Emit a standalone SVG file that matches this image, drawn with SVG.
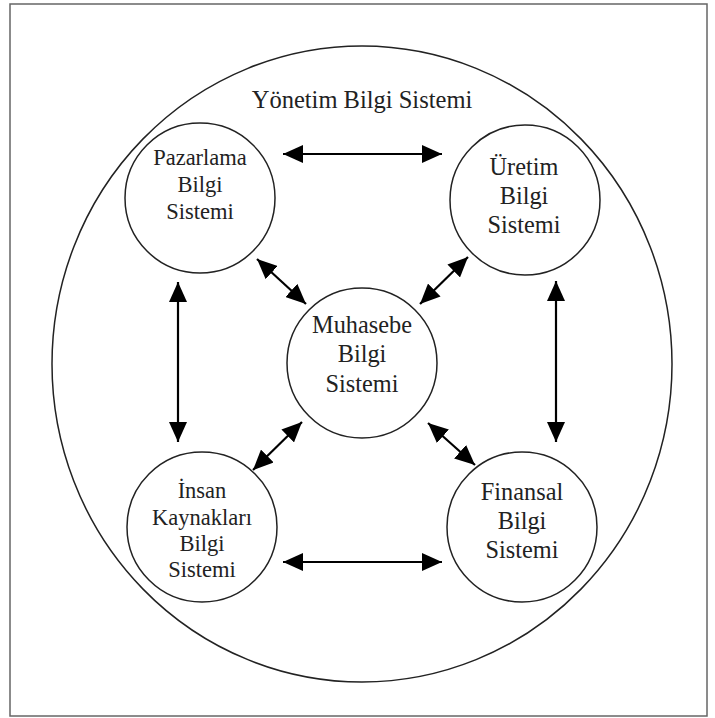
<svg xmlns="http://www.w3.org/2000/svg" width="715" height="718" viewBox="0 0 715 718">
<style>
.c{fill:#fff;stroke:#222;stroke-width:1.5}
.t{font-family:"Liberation Serif","Times New Roman",serif;font-size:22.5px;fill:#222;text-anchor:middle}
.b{font-size:24.3px}
.a{stroke:#000;stroke-width:2.2;fill:none;marker-start:url(#ah);marker-end:url(#ah)}
</style>
<defs>
<marker id="ah" markerUnits="userSpaceOnUse" markerWidth="20" markerHeight="18" refX="20" refY="9" orient="auto-start-reverse" viewBox="0 0 20 18">
<path d="M0,0 L20,9 L0,18 z" fill="#000"/>
</marker>
</defs>
<rect x="0" y="0" width="715" height="718" fill="#fff"/>
<rect x="10" y="4" width="697" height="712" fill="none" stroke="#666" stroke-width="1.5"/>
<g id="yonetim">
<ellipse cx="362" cy="364" rx="310" ry="318" fill="none" stroke="#222" stroke-width="1.5"/>
<text class="t" x="362" y="108" style="font-size:24.5px">Yönetim Bilgi Sistemi</text>
</g>
<g id="pazarlama">
<circle class="c" cx="200" cy="198" r="75"/>
<text class="t" x="200" y="165">Pazarlama</text>
<text class="t" x="200" y="192">Bilgi</text>
<text class="t" x="200" y="219">Sistemi</text>
</g>
<g id="uretim">
<circle class="c" cx="525" cy="200" r="75"/>
<text class="t b" x="524" y="175">Üretim</text>
<text class="t b" x="524" y="204">Bilgi</text>
<text class="t b" x="524" y="233">Sistemi</text>
</g>
<g id="muhasebe">
<circle class="c" cx="362" cy="363" r="75"/>
<text class="t b" x="362" y="333">Muhasebe</text>
<text class="t b" x="362" y="362">Bilgi</text>
<text class="t b" x="362" y="392">Sistemi</text>
</g>
<g id="insan">
<circle class="c" cx="202" cy="527" r="75"/>
<text class="t" x="202" y="498">İnsan</text>
<text class="t" x="202" y="525">Kaynakları</text>
<text class="t" x="202" y="551">Bilgi</text>
<text class="t" x="202" y="577">Sistemi</text>
</g>
<g id="finansal">
<circle class="c" cx="522" cy="527" r="75"/>
<text class="t b" x="522" y="500">Finansal</text>
<text class="t b" x="522" y="529">Bilgi</text>
<text class="t b" x="522" y="558">Sistemi</text>
</g>
<g id="connectors">
<line class="a" x1="283" y1="154" x2="442" y2="154"/>
<line class="a" x1="283" y1="562" x2="442" y2="562"/>
<line class="a" x1="178" y1="282" x2="178" y2="442"/>
<line class="a" x1="556" y1="281" x2="556" y2="442"/>
<line class="a" x1="257" y1="259" x2="306" y2="304"/>
<line class="a" x1="468" y1="257" x2="420" y2="304"/>
<line class="a" x1="253" y1="470" x2="302" y2="422"/>
<line class="a" x1="428" y1="423" x2="475" y2="465"/>
</g>
</svg>
